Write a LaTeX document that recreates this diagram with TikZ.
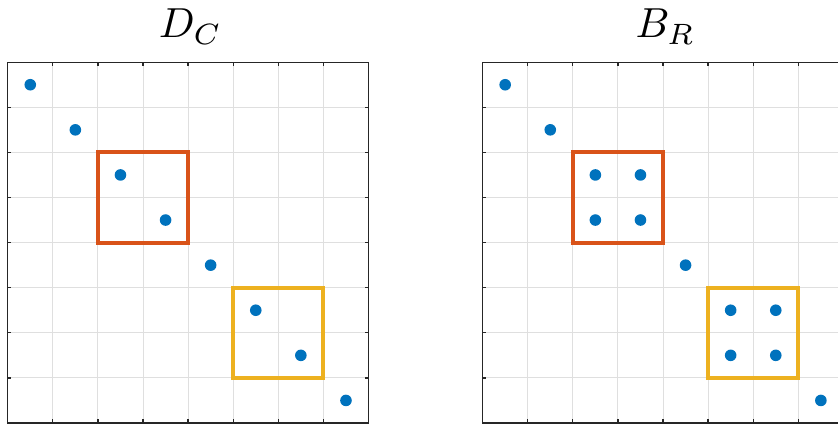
\documentclass[tikz,border=0pt]{standalone}
\usepackage{tikz}
\usepackage{xcolor}
\definecolor{dotBlue}{HTML}{0072BD}
\definecolor{boxOrange}{HTML}{D95319}
\definecolor{boxYellow}{HTML}{EDB120}
\definecolor{axisGray}{HTML}{262626}
\definecolor{gridGray}{HTML}{DFDFDF}

\tikzset{
  gridline/.style={gridGray, line width=0.9pt, step=45.1pt},
  axisline/.style={axisGray, line width=1.3pt},
  blockbox/.style={line width=4pt, line join=miter},
  dotmark/.style={fill=dotBlue},
  titletext/.style={anchor=base, scale=4.2}
}

\begin{document}
\begin{tikzpicture}[x=45.1pt, y=45.1pt]
  \useasboundingbox (-0.171,-0.111) rectangle (18.41,9.379);
  \clip (-0.171,-0.111) rectangle (18.41,9.379);

  % Left panel
  \begin{scope}
    \node[titletext] (titleD) at (4.05, 8.54) {$D_C$};
    \draw[gridline] (0,0) grid (8,8);
    \draw[axisline] (0,0) rectangle (8,8);
    \foreach \k in {1,...,7} {
      \draw[axisline] (\k,0) -- (\k,0.08);
      \draw[axisline] (\k,8) -- (\k,7.92);
      \draw[axisline] (0,\k) -- (0.08,\k);
      \draw[axisline] (8,\k) -- (7.92,\k);
    }
    % Blocks
    \draw[blockbox, boxOrange] (2,4) rectangle (4,6);
    \draw[blockbox, boxYellow] (5,1) rectangle (7,3);
    % Entries
    \fill[dotmark] (0.5,7.5) circle (5.8pt);
    \fill[dotmark] (1.5,6.5) circle (5.8pt);
    \fill[dotmark] (2.5,5.5) circle (5.8pt);
    \fill[dotmark] (3.5,4.5) circle (5.8pt);
    \fill[dotmark] (4.5,3.5) circle (5.8pt);
    \fill[dotmark] (5.5,2.5) circle (5.8pt);
    \fill[dotmark] (6.5,1.5) circle (5.8pt);
    \fill[dotmark] (7.5,0.5) circle (5.8pt);
  \end{scope}

  % Right panel
  \begin{scope}[xshift=10.53*45.1pt]
    \node[titletext] (titleB) at (4.05, 8.54) {$B_R$};
    \draw[gridline] (0,0) grid (8,8);
    \draw[axisline] (0,0) rectangle (8,8);
    \foreach \k in {1,...,7} {
      \draw[axisline] (\k,0) -- (\k,0.08);
      \draw[axisline] (\k,8) -- (\k,7.92);
      \draw[axisline] (0,\k) -- (0.08,\k);
      \draw[axisline] (8,\k) -- (7.92,\k);
    }
    % Blocks
    \draw[blockbox, boxOrange] (2,4) rectangle (4,6);
    \draw[blockbox, boxYellow] (5,1) rectangle (7,3);
    % Entries
    \fill[dotmark] (0.5,7.5) circle (5.8pt);
    \fill[dotmark] (1.5,6.5) circle (5.8pt);
    \fill[dotmark] (2.5,5.5) circle (5.8pt);
    \fill[dotmark] (3.5,5.5) circle (5.8pt);
    \fill[dotmark] (2.5,4.5) circle (5.8pt);
    \fill[dotmark] (3.5,4.5) circle (5.8pt);
    \fill[dotmark] (4.5,3.5) circle (5.8pt);
    \fill[dotmark] (5.5,2.5) circle (5.8pt);
    \fill[dotmark] (6.5,2.5) circle (5.8pt);
    \fill[dotmark] (5.5,1.5) circle (5.8pt);
    \fill[dotmark] (6.5,1.5) circle (5.8pt);
    \fill[dotmark] (7.5,0.5) circle (5.8pt);
  \end{scope}
\end{tikzpicture}
\end{document}
